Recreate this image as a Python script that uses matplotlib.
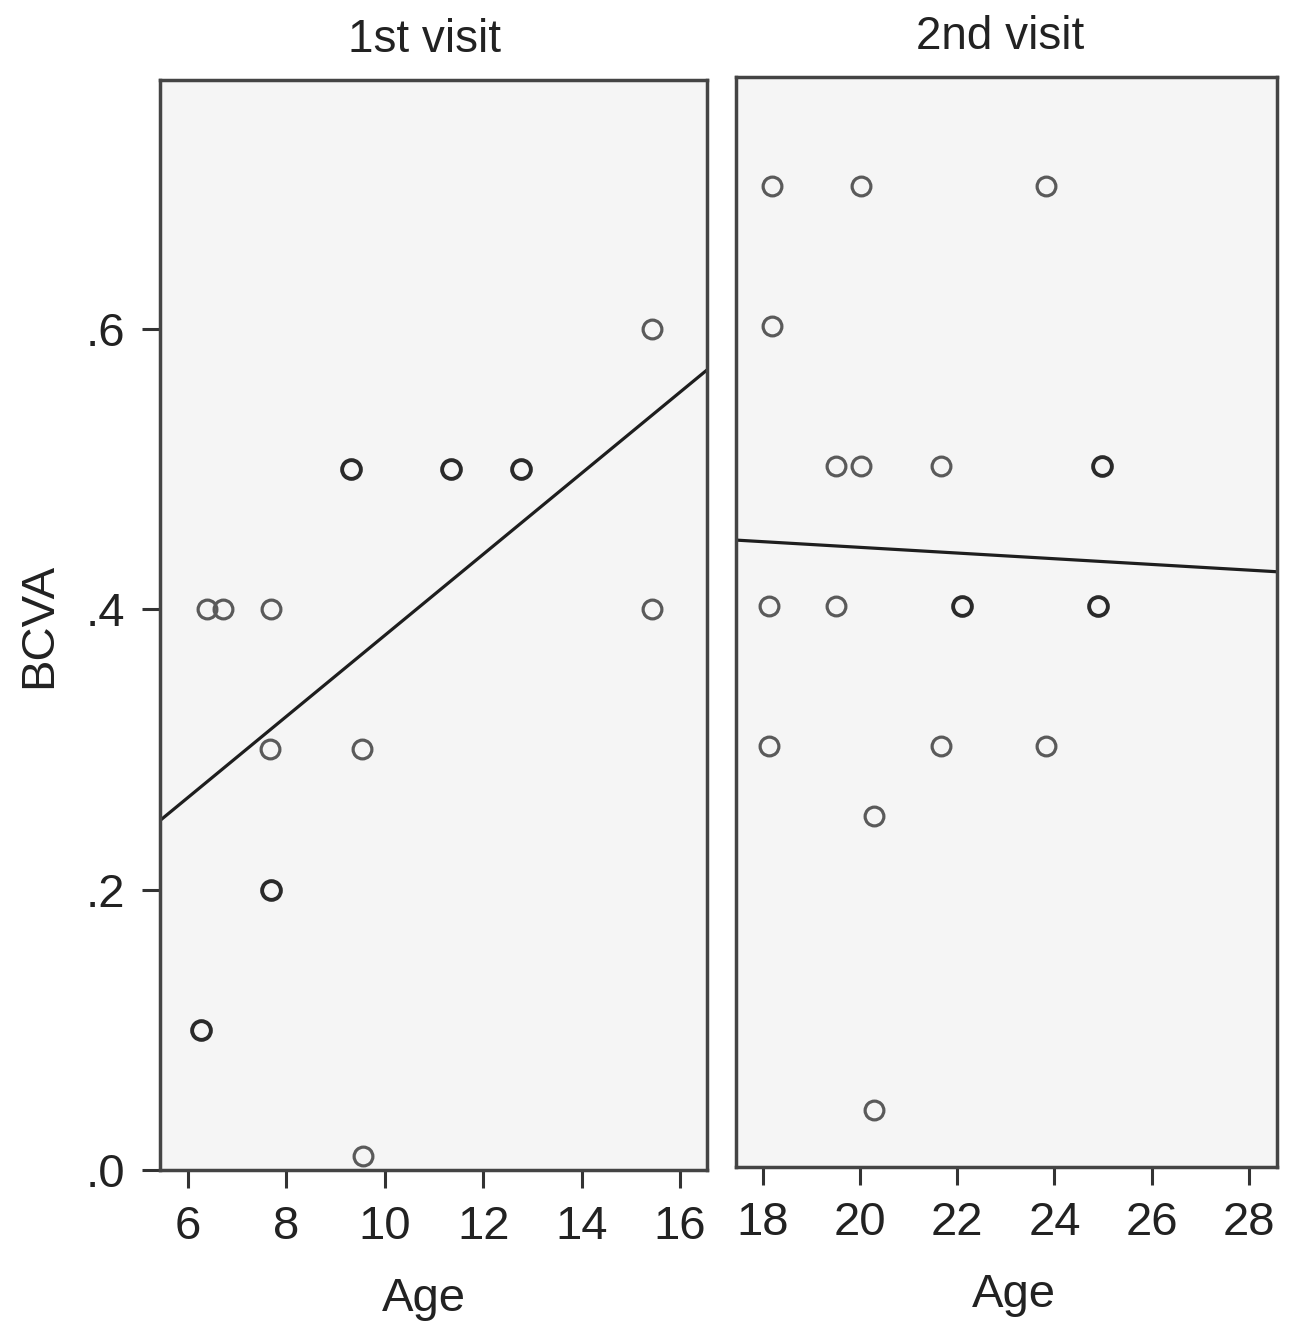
import numpy as np
import matplotlib
matplotlib.use("Agg")
import matplotlib.pyplot as plt

plt.rcParams['font.family'] = ['Liberation Sans', 'DejaVu Sans']

# 1st visit: age, BCVA, number of overlapping cases (bold circles)
age1 = [6.26, 6.38, 6.72, 7.68, 7.67, 7.68, 9.31, 9.54, 9.55, 11.34, 12.77, 15.43, 15.43]
bcva1 = [0.10, 0.40, 0.40, 0.40, 0.30, 0.20, 0.50, 0.30, 0.01, 0.50, 0.50, 0.60, 0.40]
n1 = [2, 1, 1, 1, 1, 2, 2, 1, 1, 2, 2, 1, 1]

# 2nd visit
age2 = [18.19, 20.02, 23.83, 18.19, 19.50, 20.02, 21.66, 24.98, 18.13, 19.50,
        22.09, 24.89, 18.13, 21.66, 23.83, 20.29, 20.29]
bcva2 = [0.70, 0.70, 0.70, 0.60, 0.50, 0.50, 0.50, 0.50, 0.40, 0.40,
         0.40, 0.40, 0.30, 0.30, 0.30, 0.25, 0.04]
n2 = [1, 1, 1, 1, 1, 1, 1, 2, 1, 1, 2, 2, 1, 1, 1, 1, 1]

# linear fit lines (intercept, slope)
fit1 = (0.0923, 0.02891)
fit2 = (0.4825, -0.00203)

titles = ['1st visit', '2nd visit']
xticks1 = [6, 8, 10, 12, 14, 16]
xticks2 = [18, 20, 22, 24, 26, 28]
yticks = [0.0, 0.2, 0.4, 0.6]
ytick_labels = ['.0', '.2', '.4', '.6']

W, H = 1295, 1323
fig = plt.figure(figsize=(W/100, H/100), dpi=100)
ax1 = fig.add_axes([160/W, 1-1170/H, 547/W, 1090/H])
ax2 = fig.add_axes([736/W, 1-1166.5/H, 541/W, 1089.5/H])

panels = [(ax1, age1, bcva1, n1, fit1, (5.431, 16.55), xticks1, 0.483, 0.483),
          (ax2, age2, bcva2, n2, fit2, (17.449, 28.58), xticks2, 0.488, 0.513)]

for i, (ax, x, y, n, fit, xl, xt, tx, lx) in enumerate(panels):
    ax.set_facecolor('#f5f5f5')
    for xi, yi, ni in zip(x, y, n):
        col = '#5a5a5a' if ni == 1 else '#2a2a2a'
        ax.plot(xi, yi, 'o', ms=13.5, mfc='none', mec=col, mew=2.3 + 0.5*(ni-1))
    xs = np.array(xl)
    ax.plot(xs, fit[0] + fit[1]*xs, color='#1e1e1e', lw=2.3)
    ax.set_xlim(xl)
    ax.set_ylim(0, 0.7776)
    ax.set_xticks(xt)
    ax.tick_params(axis='x', direction='out', length=13, width=2.2, color='#333333',
                   labelsize=34, pad=12, labelcolor='#222222')
    for s in ax.spines.values():
        s.set_linewidth(2.5)
        s.set_color('#444444')
    ax.set_xlabel('Age', fontsize=34, color='#222222', labelpad=20)
    ax.xaxis.set_label_coords(lx, -0.098)
    ax.set_title(titles[i], fontsize=33, color='#222222', pad=20, x=tx)

ax1.set_yticks(yticks)
ax1.set_yticklabels(ytick_labels)
ax1.tick_params(axis='y', direction='out', length=13, width=2.2, color='#333333',
                labelsize=34, pad=12, labelcolor='#222222')
ax1.set_ylabel('BCVA', fontsize=34, color='#222222', labelpad=18)
ax2.set_yticks([])

fig.savefig('out.png', dpi=100, facecolor='white')
